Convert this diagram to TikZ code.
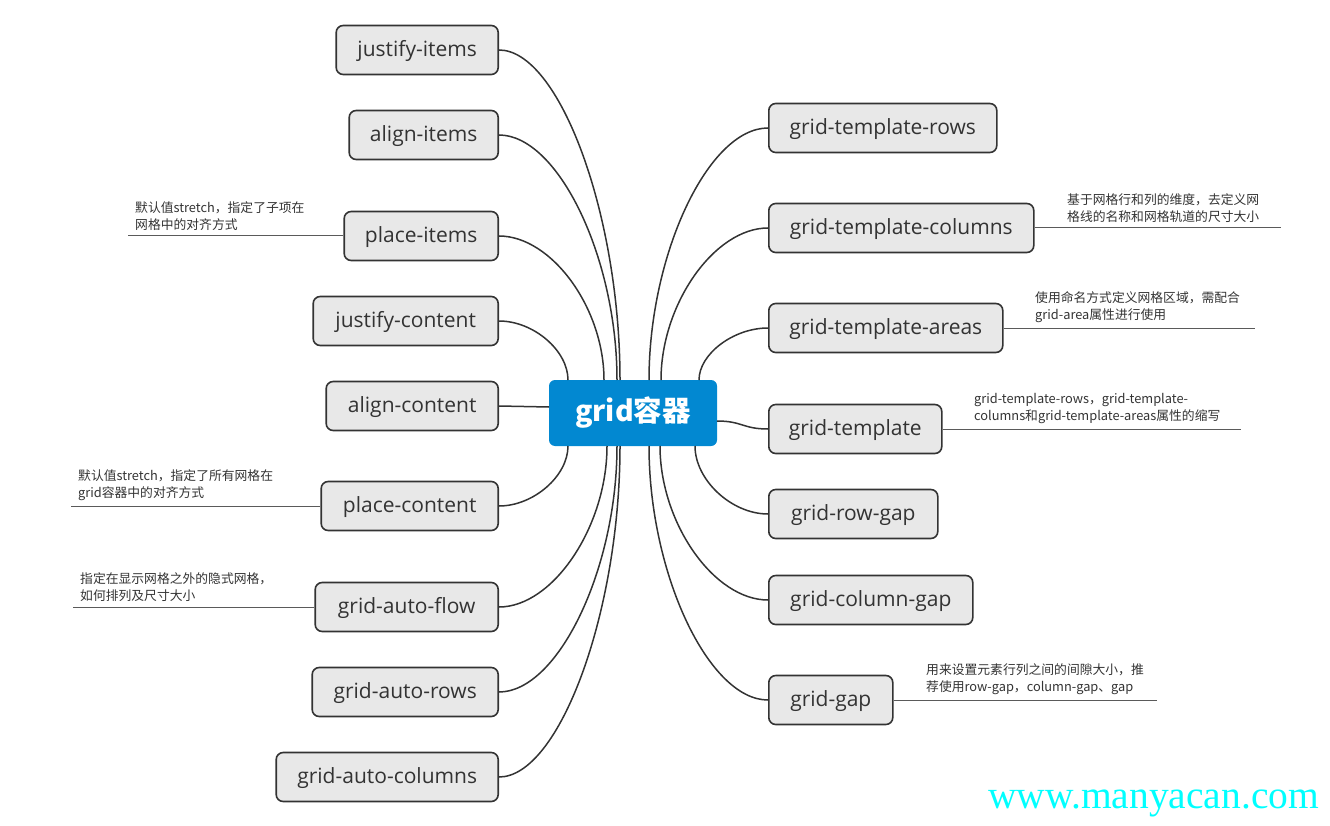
\documentclass[tikz,border=0pt]{standalone}
\usepackage{fontspec}
\setmainfont{Noto Sans CJK SC}
\newfontfamily\boxfont{Open Sans}
\newfontfamily\wmfont{Liberation Serif}
\usetikzlibrary{calc}
\definecolor{boxfill}{RGB}{232,232,232}
\definecolor{boxline}{RGB}{51,51,51}
\definecolor{txt}{RGB}{51,51,51}
\definecolor{centerfill}{RGB}{2,136,209}
\definecolor{noteline}{RGB}{90,90,90}
\definecolor{wmcyan}{RGB}{0,255,255}
\newcommand\lnk[3][0.5]{\draw[conn] (#2) .. controls ($(#2)!#1!(#2|-#3)$) and ($(#3)!#1!(#2|-#3)$) .. (#3);}
\begin{document}
\begin{tikzpicture}[x=1pt,y=-1pt,
  box/.style={draw=boxline, line width=1.6pt, fill=boxfill, rounded corners=7pt,
    minimum height=49pt, inner xsep=0pt, inner ysep=0pt,
    text height=15pt, text depth=1.5pt,
    font=\boxfont\fontsize{21}{24}\selectfont, text=txt},
  conn/.style={draw=boxline, line width=1.5pt},
  noteln/.style={draw=noteline, line width=1pt},
  note/.style={font=\fontsize{12.8}{17.5}\selectfont, align=left, inner sep=0pt,
    anchor=south west, text=txt},
  ]
\useasboundingbox (0,0) rectangle (1330,826);

% center
\node[fill=centerfill, rounded corners=6pt, minimum width=168pt, minimum height=66pt,
  inner sep=0pt, text=white, font=\bfseries\fontsize{28.5}{32}\selectfont]
  (c) at (633,413) {grid容器};

% left boxes
\node[box, minimum width=162pt, anchor=east] (ji) at (499,50) {justify-items};
\node[box, minimum width=149pt, anchor=east] (ai) at (499,135) {align-items};
\node[box, minimum width=154pt, anchor=east] (pi) at (499,236) {place-items};
\node[box, minimum width=185pt, anchor=east] (jc) at (499,321) {justify-content};
\node[box, minimum width=172pt, anchor=east] (ac) at (499,406) {align-content};
\node[box, minimum width=177pt, anchor=east] (pc) at (499,506) {place-content};
\node[box, minimum width=183pt, anchor=east] (af) at (499,607) {grid-auto-flow};
\node[box, minimum width=186pt, anchor=east] (ar) at (499,692) {grid-auto-rows};
\node[box, minimum width=222pt, anchor=east] (acl) at (499,777) {grid-auto-columns};

% right boxes
\node[box, minimum width=228pt, anchor=west] (tr) at (768,128) {grid-template-rows};
\node[box, minimum width=265pt, anchor=west] (tc) at (768,228) {grid-template-columns};
\node[box, minimum width=234pt, anchor=west] (ta) at (768,328) {grid-template-areas};
\node[box, minimum width=173pt, anchor=west] (tt) at (768,429) {grid-template};
\node[box, minimum width=169pt, anchor=west] (rg) at (768,514) {grid-row-gap};
\node[box, minimum width=204pt, anchor=west] (cg) at (768,600) {grid-column-gap};
\node[box, minimum width=124pt, anchor=west] (gg) at (768,700) {grid-gap};

% start points on center node
\coordinate (sjc) at (568,380);
\coordinate (spi) at (604,380);
\coordinate (sai) at (617,380);
\coordinate (sji) at (620,380);
\coordinate (str) at (649,380);
\coordinate (stc) at (661,380);
\coordinate (sta) at (699,380);
\coordinate (spc) at (568,446);
\coordinate (saf) at (607,446);
\coordinate (sar) at (617,446);
\coordinate (sacl) at (620,446);
\coordinate (sgg) at (649,446);
\coordinate (scg) at (660,446);
\coordinate (srg) at (695,446);
\coordinate (sac) at (549,407);
\coordinate (stt) at (717,421);

\lnk{sji}{ji.east}
\lnk{sai}{ai.east}
\lnk{spi}{pi.east}
\lnk{sjc}{jc.east}
\lnk{spc}{pc.east}
\lnk{saf}{af.east}
\lnk{sar}{ar.east}
\lnk{sacl}{acl.east}
\lnk{str}{tr.west}
\lnk{stc}{tc.west}
\lnk{sta}{ta.west}
\lnk{sgg}{gg.west}
\lnk{scg}{cg.west}
\lnk{srg}{rg.west}
\draw[conn] (sac) .. controls +(-25,0) and +(25,0) .. (ac.east);
\draw[conn] (stt) .. controls +(25,0) and +(-25,0) .. (tt.west);

% notes
\coordinate (npi) at (128,236);
\draw[noteln] (npi) -- (pi.west);
\node[note] (tpi) at (135,231) {默认值stretch，指定了子项在\\网格中的对齐方式};

\coordinate (npc) at (71,506);
\draw[noteln] (npc) -- (pc.west);
\node[note] (tpc) at (78,501) {默认值stretch，指定了所有网格在\\grid容器中的对齐方式};

\coordinate (naf) at (73,607);
\draw[noteln] (naf) -- (af.west);
\node[note] (taf) at (80,602) {指定在显示网格之外的隐式网格，\\如何排列及尺寸大小};

\coordinate (ntc) at (1281,228);
\draw[noteln] (tc.east) -- (ntc);
\node[note] (ttc) at (1067,223) {基于网格行和列的维度，去定义网\\格线的名称和网格轨道的尺寸大小};

\coordinate (nta) at (1255,328);
\draw[noteln] (ta.east) -- (nta);
\node[note] (tta) at (1035,323) {使用命名方式定义网格区域，需配合\\grid-area属性进行使用};

\coordinate (ntt) at (1241,429);
\draw[noteln] (tt.east) -- (ntt);
\node[note] (ttt) at (974,424) {grid-template-rows，grid-template-\\columns和grid-template-areas属性的缩写};

\coordinate (ngg) at (1157,700);
\draw[noteln] (gg.east) -- (ngg);
\node[note] (tgg) at (926,695) {用来设置元素行列之间的间隙大小，推\\荐使用row-gap，column-gap、gap};

% watermark
\node[anchor=base west, inner sep=0pt, text=wmcyan, font=\wmfont\fontsize{39.5}{42}\selectfont]
  (wm) at (988,808) {www.manyacan.com};
\end{tikzpicture}
\end{document}
